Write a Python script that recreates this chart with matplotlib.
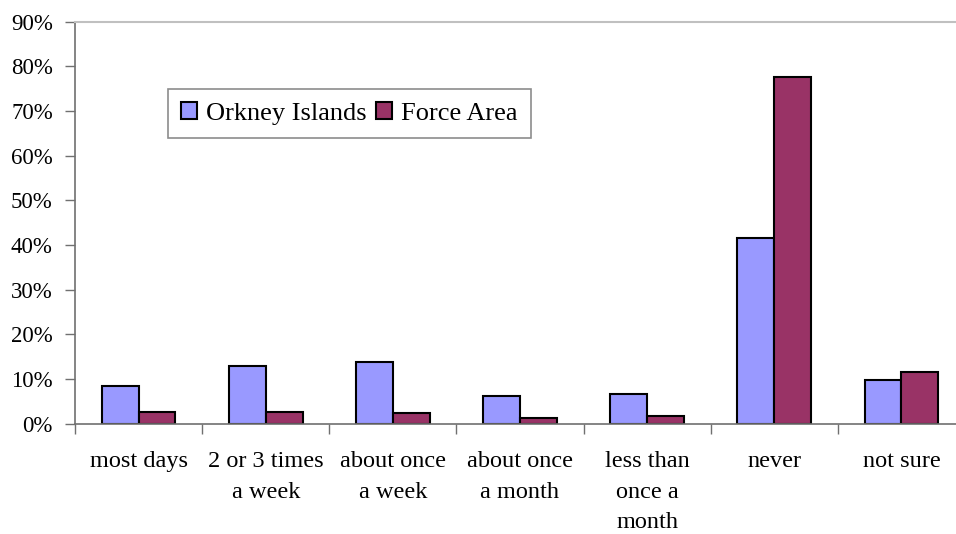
import matplotlib.pyplot as plt
import numpy as np
from matplotlib.ticker import FuncFormatter

CATEGORIES = ["most days", "2 or 3 times\na week", "about once\na week", "about once\na month",
              "less than\nonce a\nmonth", "never", "not sure"]
ORKNEY = [8.5, 12.9, 13.8, 6.2, 6.7, 41.6, 9.8]
FORCE = [2.6, 2.6, 2.3, 1.2, 1.7, 77.5, 11.6]
SERIES = ["Orkney Islands", "Force Area"]
COLORS = ["#9999FF", "#993366"]

plt.rcParams["font.family"] = ["Liberation Serif", "DejaVu Serif"]

fig = plt.figure(figsize=(9.56, 5.34), dpi=100)
ax = fig.add_axes([75 / 956, 1 - 423.5 / 534, 890 / 956, 402 / 534])

x = np.arange(len(CATEGORIES))
width = 0.29
ax.bar(x - width / 2, ORKNEY, width=width, color=COLORS[0], edgecolor="black", linewidth=1.5, label=SERIES[0])
ax.bar(x + width / 2, FORCE, width=width, color=COLORS[1], edgecolor="black", linewidth=1.5, label=SERIES[1])

ax.set_xlim(-0.5, len(CATEGORIES) - 0.5)
ax.set_ylim(0, 90)
ax.set_yticks(range(0, 91, 10))
ax.yaxis.set_major_formatter(FuncFormatter(lambda v, _: f"{v:.0f}%"))
ax.tick_params(axis="y", direction="out", length=7, width=1, color="#707070", labelsize=16.5, pad=9)

ax.set_xticks(np.arange(-0.5, len(CATEGORIES), 1.0))
ax.set_xticklabels([])
ax.tick_params(axis="x", direction="out", length=7, width=1, color="#707070")
ax.set_xticks(x, minor=True)
ax.set_xticklabels(CATEGORIES, minor=True, fontsize=17.5, linespacing=1.6, va="top")
ax.tick_params(axis="x", which="minor", length=0, pad=20)

for side in ["left", "bottom"]:
    ax.spines[side].set_color("#707070")
    ax.spines[side].set_linewidth(1.2)
ax.spines["top"].set_color("#c0c0c0")
ax.spines["top"].set_linewidth(1.5)
ax.spines["right"].set_visible(False)

leg = ax.legend(loc="upper left", bbox_to_anchor=(0.1045, 0.832), borderaxespad=0, ncol=2,
                fontsize=19, frameon=True, fancybox=False, edgecolor="#707070",
                handlelength=0.6, handleheight=0.6, handletextpad=0.35, columnspacing=0.35,
                borderpad=0.5)
leg.get_frame().set_linewidth(1.2)

fig.savefig("out.png", dpi=100)
